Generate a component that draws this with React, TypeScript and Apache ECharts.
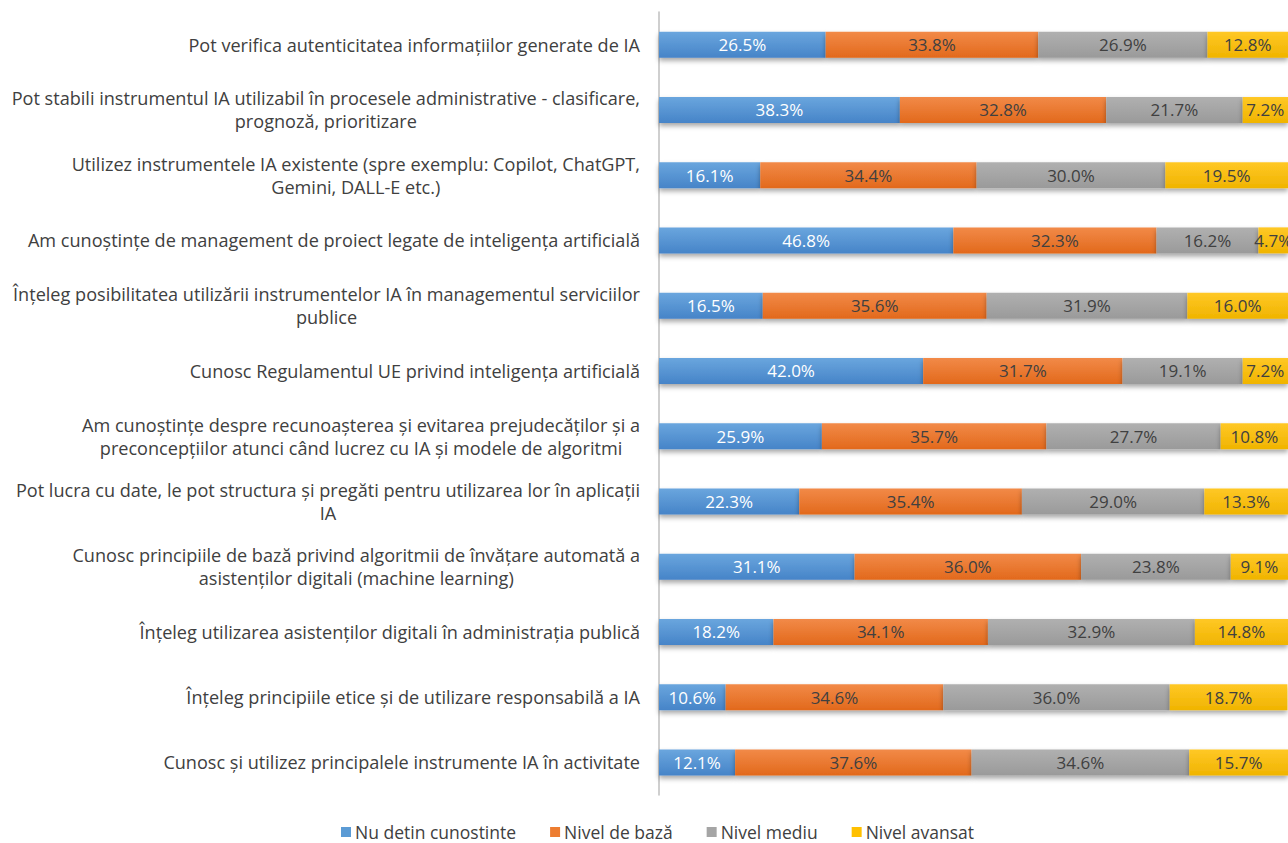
import React, { useEffect, useRef } from "react";
import * as echarts from "echarts";

const categories: string[] = [
  "Pot verifica autenticitatea informațiilor generate de IA",
  "Pot stabili instrumentul IA utilizabil în procesele administrative - clasificare,\nprognoză, prioritizare",
  "Utilizez instrumentele IA existente (spre exemplu: Copilot, ChatGPT,\nGemini, DALL-E etc.)",
  "Am cunoștințe de management de proiect legate de inteligența artificială",
  "Înțeleg posibilitatea utilizării instrumentelor IA în managementul serviciilor\npublice",
  "Cunosc Regulamentul UE privind inteligența artificială",
  "Am cunoștințe despre recunoașterea și evitarea prejudecăților și a\npreconcepțiilor atunci când lucrez cu IA și modele de algoritmi",
  "Pot lucra cu date, le pot structura și pregăti pentru utilizarea lor în aplicații\nIA",
  "Cunosc principiile de bază privind algoritmii de învățare automată a\nasistenților digitali (machine learning)",
  "Înțeleg utilizarea asistenților digitali în administrația publică",
  "Înțeleg principiile etice și de utilizare responsabilă a IA",
  "Cunosc și utilizez principalele instrumente IA în activitate",
];

const seriesNames: string[] = [
  "Nu detin cunostinte",
  "Nivel de bază",
  "Nivel mediu",
  "Nivel avansat",
];

const nuDetin: number[] = [26.5, 38.3, 16.1, 46.8, 16.5, 42.0, 25.9, 22.3, 31.1, 18.2, 10.6, 12.1];
const nivelBaza: number[] = [33.8, 32.8, 34.4, 32.3, 35.6, 31.7, 35.7, 35.4, 36.0, 34.1, 34.6, 37.6];
const nivelMediu: number[] = [26.9, 21.7, 30.0, 16.2, 31.9, 19.1, 27.7, 29.0, 23.8, 32.9, 36.0, 34.6];
const nivelAvansat: number[] = [12.8, 7.2, 19.5, 4.7, 16.0, 7.2, 10.8, 13.3, 9.1, 14.8, 18.7, 15.7];

const seriesData: number[][] = [nuDetin, nivelBaza, nivelMediu, nivelAvansat];
const colorsTop = ["#6aa6de", "#f28a48", "#b0b0b0", "#ffc826"];
const colorsBottom = ["#4684c8", "#e2691c", "#9a9a9a", "#f0b400"];
const legendColors = ["#5b9bd5", "#ed7d31", "#a5a5a5", "#ffc000"];
const labelColors = ["#ffffff", "#404040", "#404040", "#404040"];

export default function App() {
  const ref = useRef<HTMLDivElement>(null);
  useEffect(() => {
    if (!ref.current) return;
    const chart = echarts.init(ref.current, null, { renderer: "svg" });
    const font = "Open Sans";
    chart.setOption({
      animation: false,
      backgroundColor: "#ffffff",
      textStyle: { fontFamily: font },
      grid: { left: 659, right: 0, top: 12, bottom: 48, containLabel: false },
      legend: {
        top: 823,
        left: 341,
        padding: 0,
        itemWidth: 10,
        itemHeight: 10,
        itemGap: 34,
        icon: "rect",
        textStyle: { fontFamily: font, fontSize: 17.5, lineHeight: 18, color: "#404040", padding: [0, 0, 0, -1] },
        data: seriesNames.map((n, i) => ({ name: n, itemStyle: { color: legendColors[i] } })),
      },
      xAxis: { type: "value", min: 0, max: 100, show: false },
      yAxis: {
        type: "category",
        inverse: true,
        data: categories,
        axisLine: { show: true, lineStyle: { color: "#bfbfbf", width: 1.5 } },
        axisTick: { show: false },
        axisLabel: {
          margin: 19,
          fontFamily: font,
          fontSize: 18.1,
          color: "#404040",
          lineHeight: 23,
          formatter: (v: string) => v.split("\n").map((l) => "{c|" + l + "}").join("\n"),
          rich: { c: { align: "center", fontFamily: font, fontSize: 18.1, color: "#404040", lineHeight: 23 } },
        },
      },
      series: seriesData.map((d, i) => ({
        name: seriesNames[i],
        type: "bar",
        stack: "total",
        barWidth: 26,
        data: d,
        itemStyle: {
          color: new echarts.graphic.LinearGradient(0, 0, 0, 1, [
            { offset: 0, color: colorsTop[i] },
            { offset: 1, color: colorsBottom[i] },
          ]),
          shadowColor: "rgba(0,0,0,0.35)",
          shadowBlur: 5,
          shadowOffsetY: 3,
        },
        label: {
          show: true,
          position: "inside",
          fontFamily: font,
          fontSize: 17,
          color: labelColors[i],
          formatter: (p: any) => Number(p.value).toFixed(1) + "%",
        },
      })),
    });
    return () => chart.dispose();
  }, []);
  return (
    <div
      ref={ref}
      style={{ position: "absolute", left: 0, top: 0, width: 1288, height: 843, background: "#fff" }}
    />
  );
}
